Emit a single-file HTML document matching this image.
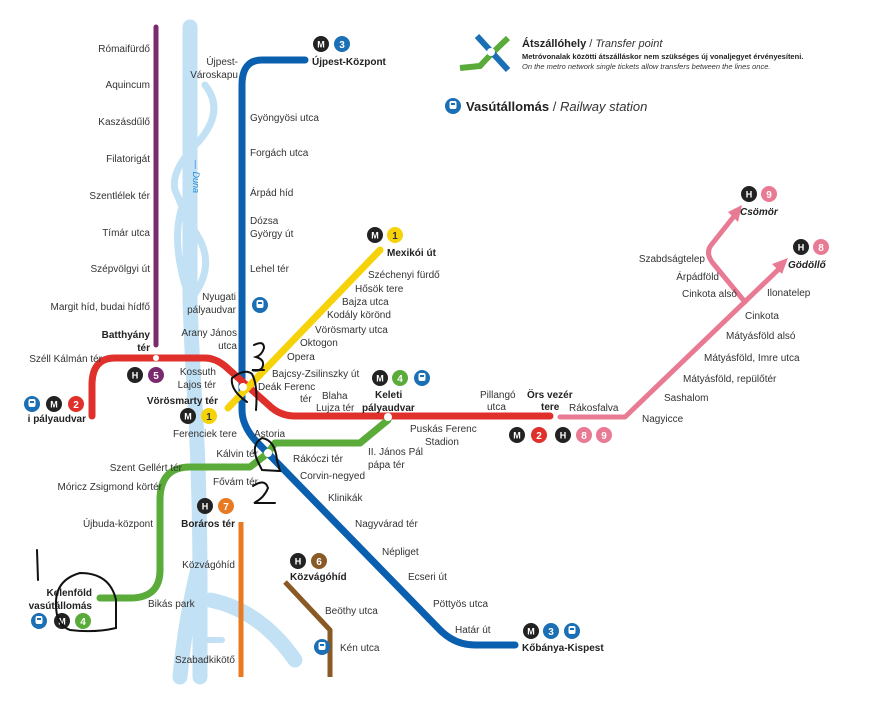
<!DOCTYPE html>
<html><head><meta charset="utf-8"><style>
body{margin:0;background:#fff}
svg{display:block}
text{font-family:"Liberation Sans",sans-serif;font-size:10px;fill:#333}
.b{font-weight:bold;fill:#222}
.r{text-anchor:end}
</style></head><body>
<svg width="873" height="714" viewBox="0 0 873 714" xmlns="http://www.w3.org/2000/svg">
<defs>
<g id="M"><circle r="8" fill="#222"/><text x="0" y="3.5" text-anchor="middle" style="font-size:9px;font-weight:bold;fill:#fff">M</text></g>
<g id="H"><circle r="8" fill="#222"/><text x="0" y="3.5" text-anchor="middle" style="font-size:9px;font-weight:bold;fill:#fff">H</text></g>
<g id="T"><circle r="8" fill="#1b6fb5"/><rect x="-3.5" y="-5" width="7" height="8" rx="2" fill="#fff"/><rect x="-2" y="-3" width="4" height="2" fill="#1b6fb5"/></g>
</defs>
<!-- river -->
<g fill="none" stroke="#c2e1f5" stroke-linecap="round">
<path d="M190 27 L190 300 Q192 360 196 420 Q200 500 200 580 L200 677" stroke-width="15"/>
<path d="M205 85 Q225 110 200 140 Q170 170 175 190 Q185 215 200 240 Q215 270 190 300" stroke-width="7"/>
<path d="M190 190 Q165 230 190 300" stroke-width="7"/>
<path d="M200 560 Q185 620 180 677" stroke-width="15"/>
<path d="M210 600 Q260 610 295 660" stroke-width="15"/>
<path d="M200 640 L222 640" stroke-width="6"/>
</g>
<text x="193" y="160" transform="rotate(90 193 160)" style="font-size:9px;font-style:italic;fill:#2a8ad4">— Duna</text>
<!-- lines -->
<g fill="none" stroke-linecap="round" stroke-linejoin="round" stroke-width="7">
<path d="M156 27 L156 345" stroke="#7b2a6e" stroke-width="5"/>
<path d="M305 60 L262 60 Q242 60 242 85 L242 410 Q242 425 255 440 L440 630 Q455 645 475 645 L515 645" stroke="#0a5fae"/>
<path d="M92 416 L92 385 Q92 358 115 358 L205 358 Q215 358 225 366 L272 408 Q282 416 295 416 L550 416" stroke="#e0302b"/>
<path d="M560 417 L625 417 L780 268" stroke="#e97a94" stroke-width="5"/>
<path d="M745 302 L712 262 Q705 252 712 244 L735 215" stroke="#e97a94" stroke-width="5"/>
<path d="M228 408 L380 250" stroke="#f5d20a"/>
<path d="M100 598 L130 598 Q160 598 160 570 L160 500 Q160 467 190 467 L250 467 L268 453 L275 443 L360 443 L388 420" stroke="#5aab3a"/>
<path d="M241 522 L241 677" stroke="#e87a22" stroke-width="5" stroke-linecap="butt"/>
<path d="M285 582 L330 630 L330 677" stroke="#8a5a26" stroke-width="5" stroke-linecap="butt"/>
</g>
<polygon points="788,258 772,264 782,274" fill="#e97a94"/>
<polygon points="742,205 728,212 738,222" fill="#e97a94"/>
<g fill="#fff"><circle cx="243" cy="387" r="4"/><circle cx="268" cy="453" r="4"/><circle cx="388" cy="417" r="4"/><circle cx="156" cy="358" r="3"/></g>
<!-- purple labels -->
<text x="150" y="52" class="r">Rómaifürdő</text><text x="150" y="88" class="r">Aquincum</text><text x="150" y="125" class="r">Kaszásdűlő</text><text x="150" y="162" class="r">Filatorigát</text><text x="150" y="199" class="r">Szentlélek tér</text><text x="150" y="236" class="r">Tímár utca</text><text x="150" y="272" class="r">Szépvölgyi út</text><text x="150" y="310" class="r">Margit híd, budai hídfő</text>
<text x="150" y="338" class="r b">Batthyány</text><text x="150" y="351" class="r b">tér</text>
<text x="102" y="362" class="r">Széll Kálmán tér</text>
<text x="86" y="422" class="r b">i pályaudvar</text>
<use href="#T" x="32" y="404"/><use href="#M" x="54" y="404"/><circle cx="76" cy="404" r="8" fill="#e0302b"/><text x="76" y="408" text-anchor="middle" style="fill:#fff;font-weight:bold">2</text>
<use href="#H" x="135" y="375"/><circle cx="156" cy="375" r="8" fill="#7b2a6e"/><text x="156" y="379" text-anchor="middle" style="fill:#fff;font-weight:bold">5</text>
<!-- blue labels -->
<text x="238" y="65" class="r">Újpest-</text><text x="238" y="78" class="r">Városkapu</text>
<use href="#M" x="321" y="44"/><circle cx="342" cy="44" r="8" fill="#1b6fb5"/><text x="342" y="48" text-anchor="middle" style="fill:#fff;font-weight:bold">3</text>
<text x="312" y="65" class="b">Újpest-Központ</text>
<text x="250" y="121">Gyöngyösi utca</text><text x="250" y="156">Forgách utca</text><text x="250" y="196">Árpád híd</text><text x="250" y="224">Dózsa</text><text x="250" y="237">György út</text><text x="250" y="272">Lehel tér</text>
<text x="236" y="300" class="r">Nyugati</text><text x="236" y="313" class="r">pályaudvar</text><use href="#T" x="260" y="305"/>
<text x="237" y="336" class="r">Arany János</text><text x="237" y="349" class="r">utca</text>
<text x="216" y="375" class="r">Kossuth</text><text x="216" y="388" class="r">Lajos tér</text>
<text x="218" y="404" class="r b">Vörösmarty tér</text>
<use href="#M" x="188" y="416"/><circle cx="209" cy="416" r="8" fill="#f5d20a"/><text x="209" y="420" text-anchor="middle" style="fill:#333;font-weight:bold">1</text>
<text x="173" y="437">Ferenciek tere</text>
<text x="254" y="437">Astoria</text>
<text x="258" y="457" class="r">Kálvin tér</text>
<text x="182" y="471" class="r">Szent Gellért tér</text>
<text x="162" y="490" class="r">Móricz Zsigmond körtér</text>
<text x="213" y="485">Fővám tér</text>
<text x="153" y="527" class="r">Újbuda-központ</text>
<text x="92" y="596" class="r b">Kelenföld</text><text x="92" y="609" class="r b">vasútállomás</text>
<use href="#T" x="39" y="621"/><use href="#M" x="62" y="621"/><circle cx="83" cy="621" r="8" fill="#5aab3a"/><text x="83" y="625" text-anchor="middle" style="fill:#fff;font-weight:bold">4</text>
<text x="148" y="607">Bikás park</text>
<use href="#H" x="205" y="506"/><circle cx="226" cy="506" r="8" fill="#e87a22"/><text x="226" y="510" text-anchor="middle" style="fill:#fff;font-weight:bold">7</text>
<text x="235" y="527" class="r b">Boráros tér</text>
<text x="235" y="568" class="r">Közvágóhíd</text>
<text x="235" y="663" class="r">Szabadkikötő</text>
<use href="#H" x="298" y="561"/><circle cx="319" cy="561" r="8" fill="#8a5a26"/><text x="319" y="565" text-anchor="middle" style="fill:#fff;font-weight:bold">6</text>
<text x="290" y="580" class="b">Közvágóhíd</text>
<text x="325" y="614">Beöthy utca</text>
<use href="#T" x="322" y="647"/><text x="340" y="651">Kén utca</text>
<text x="300" y="479">Corvin-negyed</text><text x="328" y="501">Klinikák</text><text x="355" y="527">Nagyvárad tér</text><text x="382" y="555">Népliget</text><text x="408" y="580">Ecseri út</text><text x="433" y="607">Pöttyös utca</text><text x="455" y="633">Határ út</text>
<use href="#M" x="531" y="631"/><circle cx="551" cy="631" r="8" fill="#1b6fb5"/><text x="551" y="635" text-anchor="middle" style="fill:#fff;font-weight:bold">3</text><use href="#T" x="572" y="631"/>
<text x="522" y="651" class="b">Kőbánya-Kispest</text>
<!-- yellow -->
<use href="#M" x="375" y="235"/><circle cx="395" cy="235" r="8" fill="#f5d20a"/><text x="395" y="239" text-anchor="middle" style="font-weight:bold">1</text>
<text x="387" y="256" class="b">Mexikói út</text>
<text x="368" y="278">Széchenyi fürdő</text><text x="355" y="292">Hősök tere</text><text x="342" y="305">Bajza utca</text><text x="327" y="318">Kodály körönd</text><text x="315" y="333">Vörösmarty utca</text><text x="300" y="346">Oktogon</text><text x="287" y="360">Opera</text>
<text x="272" y="377">Bajcsy-Zsilinszky út</text><text x="258" y="390">Deák Ferenc</text><text x="300" y="402">tér</text>
<text x="322" y="399">Blaha</text><text x="316" y="411">Lujza tér</text>
<use href="#M" x="380" y="378"/><circle cx="400" cy="378" r="8" fill="#5aab3a"/><text x="400" y="382" text-anchor="middle" style="fill:#fff;font-weight:bold">4</text><use href="#T" x="422" y="378"/>
<text x="375" y="398" class="b">Keleti</text><text x="362" y="411" class="b">pályaudvar</text>
<text x="410" y="432">Puskás Ferenc</text><text x="425" y="445">Stadion</text>
<text x="368" y="455">II. János Pál</text><text x="368" y="468">pápa tér</text>
<text x="293" y="462">Rákóczi tér</text>
<text x="480" y="398">Pillangó</text><text x="487" y="410">utca</text>
<text x="527" y="398" class="b">Örs vezér</text><text x="541" y="410" class="b">tere</text><text x="569" y="411">Rákosfalva</text>
<use href="#M" x="517" y="435"/><circle cx="539" cy="435" r="8" fill="#e0302b"/><text x="539" y="439" text-anchor="middle" style="fill:#fff;font-weight:bold">2</text>
<use href="#H" x="563" y="435"/><circle cx="584" cy="435" r="8" fill="#e97a94"/><text x="584" y="439" text-anchor="middle" style="fill:#fff;font-weight:bold">8</text><circle cx="604" cy="435" r="8" fill="#e97a94"/><text x="604" y="439" text-anchor="middle" style="fill:#fff;font-weight:bold">9</text>
<!-- HÉV labels -->
<text x="642" y="422">Nagyicce</text><text x="664" y="401">Sashalom</text><text x="683" y="382">Mátyásföld, repülőtér</text><text x="704" y="361">Mátyásföld, Imre utca</text><text x="726" y="339">Mátyásföld alsó</text><text x="745" y="319">Cinkota</text>
<text x="767" y="296">Ilonatelep</text><text x="737" y="297" class="r">Cinkota alsó</text><text x="719" y="280" class="r">Árpádföld</text><text x="705" y="262" class="r">Szabdságtelep</text>
<use href="#H" x="749" y="194"/><circle cx="769" cy="194" r="8" fill="#e97a94"/><text x="769" y="198" text-anchor="middle" style="fill:#fff;font-weight:bold">9</text>
<text x="740" y="215" class="b" style="font-style:italic">Csömör</text>
<use href="#H" x="801" y="247"/><circle cx="821" cy="247" r="8" fill="#e97a94"/><text x="821" y="251" text-anchor="middle" style="fill:#fff;font-weight:bold">8</text>
<text x="788" y="268" class="b" style="font-style:italic">Gödöllő</text>
<!-- legend -->
<g fill="none" stroke-width="6"><path d="M460 68 L480 66 Q490 55 508 38" stroke="#5aab3a"/><path d="M477 36 L508 70" stroke="#1b6fb5"/></g>
<circle cx="491" cy="52" r="4" fill="#fff"/>
<text x="522" y="47" style="font-size:11px"><tspan class="b">Átszállóhely</tspan> / <tspan style="font-style:italic">Transfer point</tspan></text>
<text x="522" y="59" class="b" style="font-size:7.5px">Metróvonalak közötti átszálláskor nem szükséges új vonaljegyet érvényesíteni.</text>
<text x="522" y="69" style="font-size:7.5px;font-style:italic">On the metro network single tickets allow transfers between the lines once.</text>
<use href="#T" x="453" y="106"/>
<text x="466" y="111" style="font-size:13px"><tspan class="b">Vasútállomás</tspan> / <tspan style="font-style:italic">Railway station</tspan></text>
<!-- handwriting -->
<g fill="none" stroke="#111" stroke-width="2" stroke-linecap="round">
<path d="M254 345 Q264 340 264 348 Q262 355 256 357 Q266 360 262 368 Q258 372 252 370 L264 370"/>
<path d="M247 402 Q230 390 232 378 Q245 368 252 374 Q258 385 256 410"/>
<path d="M258 462 Q250 445 262 438 Q275 440 277 460 L280 471 L262 470 Z"/>
<path d="M253 486 Q265 478 268 488 Q264 498 254 503 L275 503"/>
<path d="M37 550 L38 580"/>
<path d="M56 605 Q55 580 80 573 Q110 573 116 600 L116 628 Q95 633 70 630 Q56 625 56 605"/>
</g>
</svg>
</body></html>
